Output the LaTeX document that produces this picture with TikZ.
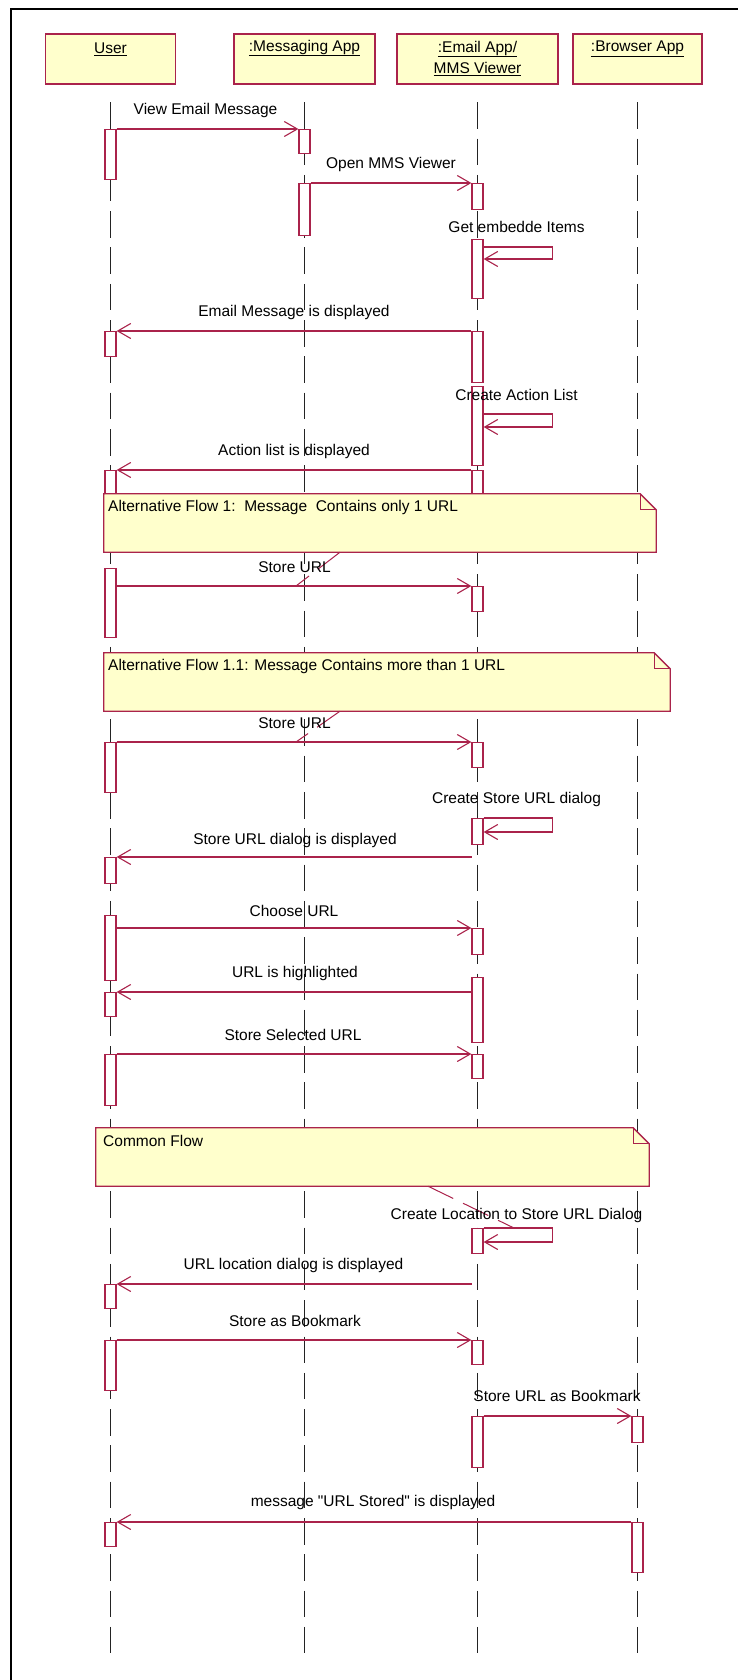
\documentclass[tikz,border=0pt]{standalone}
\usepackage{fontspec}
\setmainfont{Liberation Sans}
\usetikzlibrary{arrows.meta,calc}
\definecolor{mar}{RGB}{170,35,75}
\definecolor{hfill}{RGB}{255,255,204}
\definecolor{lifec}{RGB}{35,35,35}
\begin{document}
\begin{tikzpicture}[x=1pt,y=-1pt, font=\fontsize{15.5}{18}\selectfont,
  head/.style={draw=mar, fill=hfill, line width=1.6pt, minimum height=50pt, inner sep=0},
  act/.style={draw=mar, fill=white, line width=1.3pt, minimum width=11pt, inner sep=0, anchor=north},
  life/.style={draw=lifec, line width=1.2pt, dash pattern=on 26.5pt off 9.8pt},
  msg/.style={draw=mar, line width=1.1pt, ->},
  lbl/.style={inner sep=0, text=black},
  notebox/.style={inner sep=0},
  notebg/.style={draw=mar, fill=hfill, line width=1.3pt, line join=miter},
  noteln/.style={draw=mar, line width=1.1pt},
  anchorline/.style={draw=mar, line width=1pt, dash pattern=on 28pt off 11pt},
  >={Straight Barb[length=13pt,width=15pt]}]
\useasboundingbox (0,0) rectangle (738,1680);
\fill[white] (0,0) rectangle (738,1680);
\draw[black, line width=2.2pt] (11,1680) -- (11,9) -- (738,9);

% headers
\node[head, minimum width=130pt] (hu) at (110.5,59) {};
\node[head, minimum width=141pt] (hm) at (304.5,59) {};
\node[head, minimum width=161pt] (he) at (477.5,59) {};
\node[head, minimum width=129pt] (hb) at (637.5,59) {};
\node[lbl] (hut) at (110.5,49) {\underline{User}};
\node[lbl] (hmt) at (304.5,48) {\underline{:Messaging App}};
\node[lbl] (het1) at (477.5,49) {\underline{:Email App/}};
\node[lbl] (het2) at (477.5,69) {\underline{MMS Viewer}};
\node[lbl] (hbt) at (637.5,49) {\underline{:Browser App}};

% lifelines
\foreach \h in {hu,hm,he,hb}{
  \draw[life] ([yshift=-17.5pt]\h.south) -- ([yshift=-1570pt]\h.south);
}

% activations: User
\node[act, minimum height=50pt] (u1) at (110.5,129) {};
\node[act, minimum height=25pt] (u2) at (110.5,331) {};
\node[act, minimum height=24pt] (u3) at (110.5,470) {};
\node[act, minimum height=69pt] (u4) at (110.5,568) {};
\node[act, minimum height=50pt] (u5) at (110.5,742) {};
\node[act, minimum height=26pt] (u6) at (110.5,857) {};
\node[act, minimum height=65pt] (u7) at (110.5,915) {};
\node[act, minimum height=24pt] (u8) at (110.5,992) {};
\node[act, minimum height=51pt] (u9) at (110.5,1054) {};
\node[act, minimum height=24pt] (u10) at (110.5,1284) {};
\node[act, minimum height=50pt] (u11) at (110.5,1340) {};
\node[act, minimum height=24pt] (u12) at (110.5,1522) {};
% Messaging
\node[act, minimum height=24pt] (m1) at (304.5,129) {};
\node[act, minimum height=52pt] (m2) at (304.5,183) {};
% Email
\node[act, minimum height=26pt] (e1) at (477.5,183) {};
\node[act, minimum height=59pt] (e2) at (477.5,239) {};
\node[act, minimum height=51pt] (e3) at (477.5,331) {};
\node[act, minimum height=79pt] (e4) at (477.5,386) {};
\node[act, minimum height=24pt] (e5) at (477.5,470) {};
\node[act, minimum height=25pt] (e6) at (477.5,586) {};
\node[act, minimum height=25pt] (e7) at (477.5,742) {};
\node[act, minimum height=26pt] (e8) at (477.5,818) {};
\node[act, minimum height=26pt] (e9) at (477.5,928) {};
\node[act, minimum height=65pt] (e10) at (477.5,977) {};
\node[act, minimum height=24pt] (e11) at (477.5,1054) {};
\node[act, minimum height=25pt] (e12) at (477.5,1228) {};
\node[act, minimum height=24pt] (e13) at (477.5,1340) {};
\node[act, minimum height=51pt] (e14) at (477.5,1416) {};
% Browser
\node[act, minimum height=26pt] (b1) at (637.5,1416) {};
\node[act, minimum height=50pt] (b2) at (637.5,1522) {};

% notes
\node[notebox, minimum width=552pt, minimum height=58pt] (n1) at (380,523) {};
\node[notebox, minimum width=566pt, minimum height=58pt] (n2) at (387,682) {};
\node[notebox, minimum width=553pt, minimum height=58pt] (n3) at (372.5,1157) {};
\foreach \n in {n1,n2,n3}{
  \path[notebg] (\n.north west) -- ([xshift=-16pt]\n.north east) -- ([yshift=-16pt]\n.north east)
     -- (\n.south east) -- (\n.south west) -- cycle;
  \draw[noteln] ([xshift=-16pt]\n.north east) |- ([yshift=-16pt]\n.north east);
}
\node[lbl, anchor=west] (n1t) at (108,507) {Alternative Flow 1:\ \ Message\ \ Contains only 1 URL};
\node[lbl, anchor=west] (n2t) at (108,666) {Alternative Flow 1.1: Message Contains more than 1 URL};
\node[lbl, anchor=west] (n3t) at (103,1141) {Common Flow};

% note anchor lines
\coordinate (k1) at (296,586);
\coordinate (k2) at (296,742);
\coordinate (k3) at (514,1228);
\draw[anchorline] ([xshift=-40pt]n1.south) -- (k1);
\draw[anchorline] ([xshift=-47pt]n2.south) -- (k2);
\draw[anchorline] ([xshift=55.5pt]n3.south) -- (k3);

% messages
\draw[msg] (u1.north east) -- (m1.north west);
\draw[msg] (m2.north east) -- (e1.north west);
\draw[msg] ([yshift=-8pt]e2.north east) -- ++(68.5,0) -- ++(0,12) -- ([yshift=-20pt]e2.north east);
\draw[msg] (e3.north west) -- (u2.north east);
\draw[msg] ([yshift=-28pt]e4.north east) -- ++(68.5,0) -- ++(0,13) -- ([yshift=-41pt]e4.north east);
\draw[msg] (e5.north west) -- (u3.north east);
\draw[msg] (u4.east |- e6.north) -- (e6.north west);
\draw[msg] (u5.north east) -- (e7.north west);
\draw[msg] (e8.north east) -- ++(68.5,0) -- ++(0,14) -- ([yshift=-14pt]e8.north east);
\coordinate (s10) at (471.5,857);
\draw[msg] (s10) -- (u6.north east);
\draw[msg] (u7.east |- e9.north) -- (e9.north west);
\draw[msg] (e10.west |- u8.north) -- (u8.north east);
\draw[msg] (u9.north east) -- (e11.north west);
\draw[msg] (e12.north east) -- ++(68.5,0) -- ++(0,14) -- ([yshift=-14pt]e12.north east);
\coordinate (s15) at (471.5,1284);
\draw[msg] (s15) -- (u10.north east);
\draw[msg] (u11.north east) -- (e13.north west);
\draw[msg] (e14.north east) -- (b1.north west);
\draw[msg] (b2.north west) -- (u12.north east);

% message labels
\node[lbl] (t1) at (205.5,110) {View Email Message};
\node[lbl] (t2) at (391,164) {Open MMS Viewer};
\node[lbl] (t3) at (516.5,227) {Get embedde Items};
\node[lbl] (t4) at (294,312) {Email Message is displayed};
\node[lbl] (t5) at (516.5,395) {Create Action List};
\node[lbl] (t6) at (294,451) {Action list is displayed};
\node[lbl] (t7) at (294.5,567) {Store URL};
\node[lbl] (t8) at (294.5,723) {Store URL};
\node[lbl] (t9) at (516.5,799) {Create Store URL dialog};
\node[lbl] (t10) at (295,840) {Store URL dialog is displayed};
\node[lbl] (t11) at (294,911) {Choose URL};
\node[lbl] (t12) at (295,973) {URL is highlighted};
\node[lbl] (t13) at (293,1035) {Store Selected URL};
\node[lbl] (t14) at (516.5,1215) {Create Location to Store URL Dialog};
\node[lbl] (t15) at (293.5,1265) {URL location dialog is displayed};
\node[lbl] (t16) at (295,1321) {Store as Bookmark};
\node[lbl] (t17) at (557,1396) {Store URL as Bookmark};
\node[lbl] (t18) at (373,1502) {message \textquotedbl URL Stored\textquotedbl\ is displayed};
\end{tikzpicture}
\end{document}
